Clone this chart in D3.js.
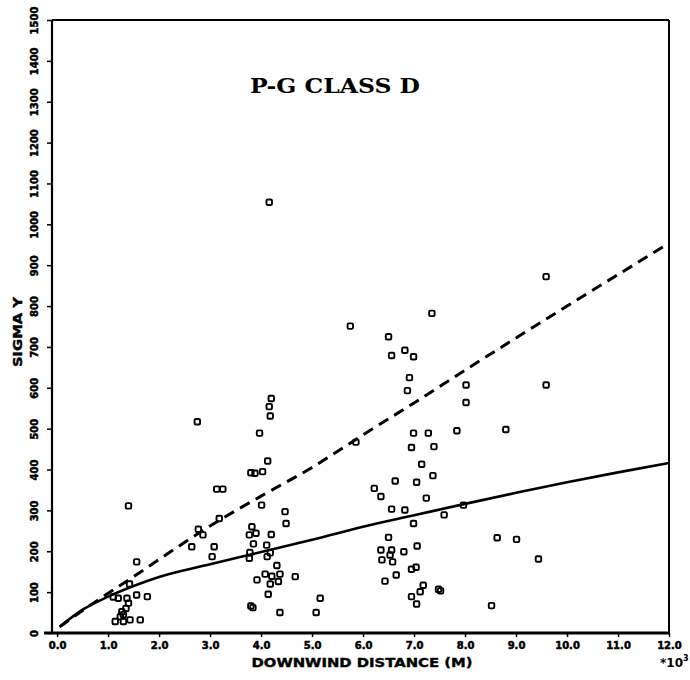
<!DOCTYPE html>
<html>
<head>
<meta charset="utf-8">
<script src="https://cdn.jsdelivr.net/npm/d3@7"></script>
<style>
  html, body { margin: 0; padding: 0; background: #fff; }
  svg { display: block; }
</style>
</head>
<body>
<svg id="chart" width="690" height="680"></svg>
<script>
// ---- Data (x in thousands of metres, sigma y in metres) ----
const title = "P-G CLASS D";
const xTickValues = [0,1,2,3,4,5,6,7,8,9,10,11,12];
const xTickLabels = ["0.0","1.0","2.0","3.0","4.0","5.0","6.0","7.0","8.0","9.0","10.0","11.0","12.0"];
const yTickValues = [0,100,200,300,400,500,600,700,800,900,1000,1100,1200,1300,1400,1500];

const obsX = [
  1.40,3.13,3.25,1.56,1.42,1.56,1.77,2.77,2.86,2.64,3.18,3.08,3.04,2.75,
  1.10,1.20,1.37,1.40,1.27,1.24,1.14,1.30,1.43,1.63,1.30,1.35,
  4.16,4.20,4.16,4.18,3.97,4.13,3.80,3.88,4.03,4.01,4.47,4.49,3.82,3.77,3.90,4.20,3.85,4.11,
  3.78,3.77,4.18,4.12,4.31,4.08,4.21,4.37,3.92,4.18,4.34,4.67,4.14,3.80,3.84,4.37,5.16,5.08,
  5.75,5.86,6.50,6.56,6.82,6.99,6.91,6.87,7.35,9.59,8.02,8.02,9.59,7.84,8.80,6.99,7.28,6.95,
  7.39,7.15,7.37,6.63,7.05,6.22,6.35,7.24,6.56,6.82,7.59,7.97,6.99,6.50,7.06,8.63,9.01,9.44,
  6.35,6.56,6.53,6.37,6.58,6.80,6.95,7.04,6.65,6.43,7.18,7.12,6.95,7.05,7.48,7.52,8.52
];
const obsY = [
  311,352,352,174,120,93,89,254,240,211,280,211,187,517,
  88,85,85,73,52,40,28,28,32,32,45,60,
  1054,574,554,531,489,421,392,391,395,313,297,268,260,240,244,241,218,215,
  197,183,196,187,165,144,139,144,130,120,126,138,95,66,62,50,85,50,
  751,467,725,679,692,676,625,593,782,872,607,564,607,495,498,489,489,454,
  456,413,385,372,369,354,334,330,303,301,289,313,268,234,213,233,229,181,
  203,203,191,179,174,199,156,161,142,127,117,101,89,71,107,103,67
];

// Model curves
const solidX = [0.05,0.5,1,1.5,2,3,4,5,6,7,8,9,10,11,12];
const solidY = [15,57,89,115,137,168,198,228,260,288,316,343,369,393,416];
const dashX  = [0.05,0.5,1,1.5,2,3,4,5,6,7,8,9,10,11,12];
const dashY  = [15,55,97,138,180,262,335,405,485,563,643,722,800,877,954];

// ---- Layout ----
const svg = d3.select("#chart");
const pLeft = 52, pRight = 669, pTop = 20, pBottom = 633;

const x = d3.scaleLinear().domain([-0.1, 12]).range([pLeft, pRight]);
const y = d3.scaleLinear().domain([0, 1500]).range([pBottom, pTop]);

// Frame
svg.append("line").attr("x1", pLeft).attr("x2", pLeft).attr("y1", pTop).attr("y2", pBottom + 1)
  .attr("stroke", "#000").attr("stroke-width", 2.2);
svg.append("line").attr("x1", pLeft).attr("x2", pRight).attr("y1", pTop).attr("y2", pTop)
  .attr("stroke", "#000").attr("stroke-width", 2);
svg.append("line").attr("x1", pRight).attr("x2", pRight).attr("y1", pTop).attr("y2", pBottom)
  .attr("stroke", "#000").attr("stroke-width", 2);

// Axes
const xAxis = d3.axisBottom(x).tickValues(xTickValues)
  .tickFormat((d, i) => xTickLabels[i]).tickSize(4).tickSizeOuter(0);
const gx = svg.append("g").attr("transform", `translate(0,${pBottom})`).call(xAxis);
gx.select(".domain").attr("d", `M${pLeft - 8},0H${pRight}`).attr("stroke-width", 3);
gx.selectAll(".tick line").attr("stroke-width", 1.5);
gx.selectAll(".tick text")
  .attr("font-family", "DejaVu Sans, sans-serif").attr("font-weight", "bold")
  .attr("font-size", 10).attr("dy", "0.9em").attr("fill", "#000")
  .attr("stroke", "#000").attr("stroke-width", 0.5);

const yAxis = d3.axisLeft(y).tickValues(yTickValues).tickFormat(d3.format("d"))
  .tickSize(5).tickSizeOuter(0);
const gy = svg.append("g").attr("transform", `translate(${pLeft},0)`).call(yAxis);
gy.select(".domain").remove();
gy.selectAll(".tick line").attr("stroke-width", 1.5);
gy.selectAll(".tick text")
  .attr("font-family", "DejaVu Sans, sans-serif").attr("font-weight", "bold")
  .attr("font-size", 10).attr("fill", "#000")
  .attr("stroke", "#000").attr("stroke-width", 0.5)
  .attr("x", null).attr("dy", null)
  .attr("text-anchor", "middle")
  .attr("transform", "translate(-17,0) rotate(-90)")
  .attr("dominant-baseline", "middle");

// Axis titles
svg.append("text").attr("x", 362).attr("y", 667).attr("text-anchor", "middle")
  .attr("font-family", "DejaVu Sans, sans-serif").attr("font-weight", "bold")
  .attr("font-size", 13).attr("textLength", 221).attr("lengthAdjust", "spacingAndGlyphs")
  .attr("stroke", "#000").attr("stroke-width", 0.4)
  .text("DOWNWIND DISTANCE (M)");
const mult = svg.append("text").attr("x", 660).attr("y", 667)
  .attr("font-family", "DejaVu Sans, sans-serif").attr("font-weight", "bold")
  .attr("font-size", 12);
mult.append("tspan").text("*10");
mult.append("tspan").attr("dy", -6).attr("font-size", 8).text("3");

svg.append("text").attr("transform", "translate(22,332) rotate(-90)")
  .attr("text-anchor", "middle")
  .attr("font-family", "DejaVu Sans, sans-serif").attr("font-weight", "bold")
  .attr("font-size", 12).attr("textLength", 70).attr("lengthAdjust", "spacingAndGlyphs")
  .attr("stroke", "#000").attr("stroke-width", 0.4)
  .text("SIGMA Y");

// Title
svg.append("text").attr("x", 335).attr("y", 93).attr("text-anchor", "middle")
  .attr("font-family", "DejaVu Serif, serif").attr("font-weight", "bold")
  .attr("font-size", 20).attr("textLength", 170).attr("lengthAdjust", "spacingAndGlyphs")
  .text(title);

// Curves
const line = d3.line().x(d => x(d[0])).y(d => y(d[1])).curve(d3.curveMonotoneX);
svg.append("path").datum(solidX.map((v, i) => [v, solidY[i]]))
  .attr("d", line).attr("fill", "none").attr("stroke", "#000").attr("stroke-width", 2.6);
svg.append("path").datum(dashX.map((v, i) => [v, dashY[i]]))
  .attr("d", line).attr("fill", "none").attr("stroke", "#000").attr("stroke-width", 3)
  .attr("stroke-dasharray", "11,7");

// Observations
const s = 5.5;
svg.append("g").selectAll("rect").data(obsX.map((v, i) => [v, obsY[i]])).join("rect")
  .attr("x", d => x(d[0]) - s / 2).attr("y", d => y(d[1]) - s / 2)
  .attr("width", s).attr("height", s).attr("rx", 1.3)
  .attr("fill", "none").attr("stroke", "#000").attr("stroke-width", 1.9);
</script>
</body>
</html>
